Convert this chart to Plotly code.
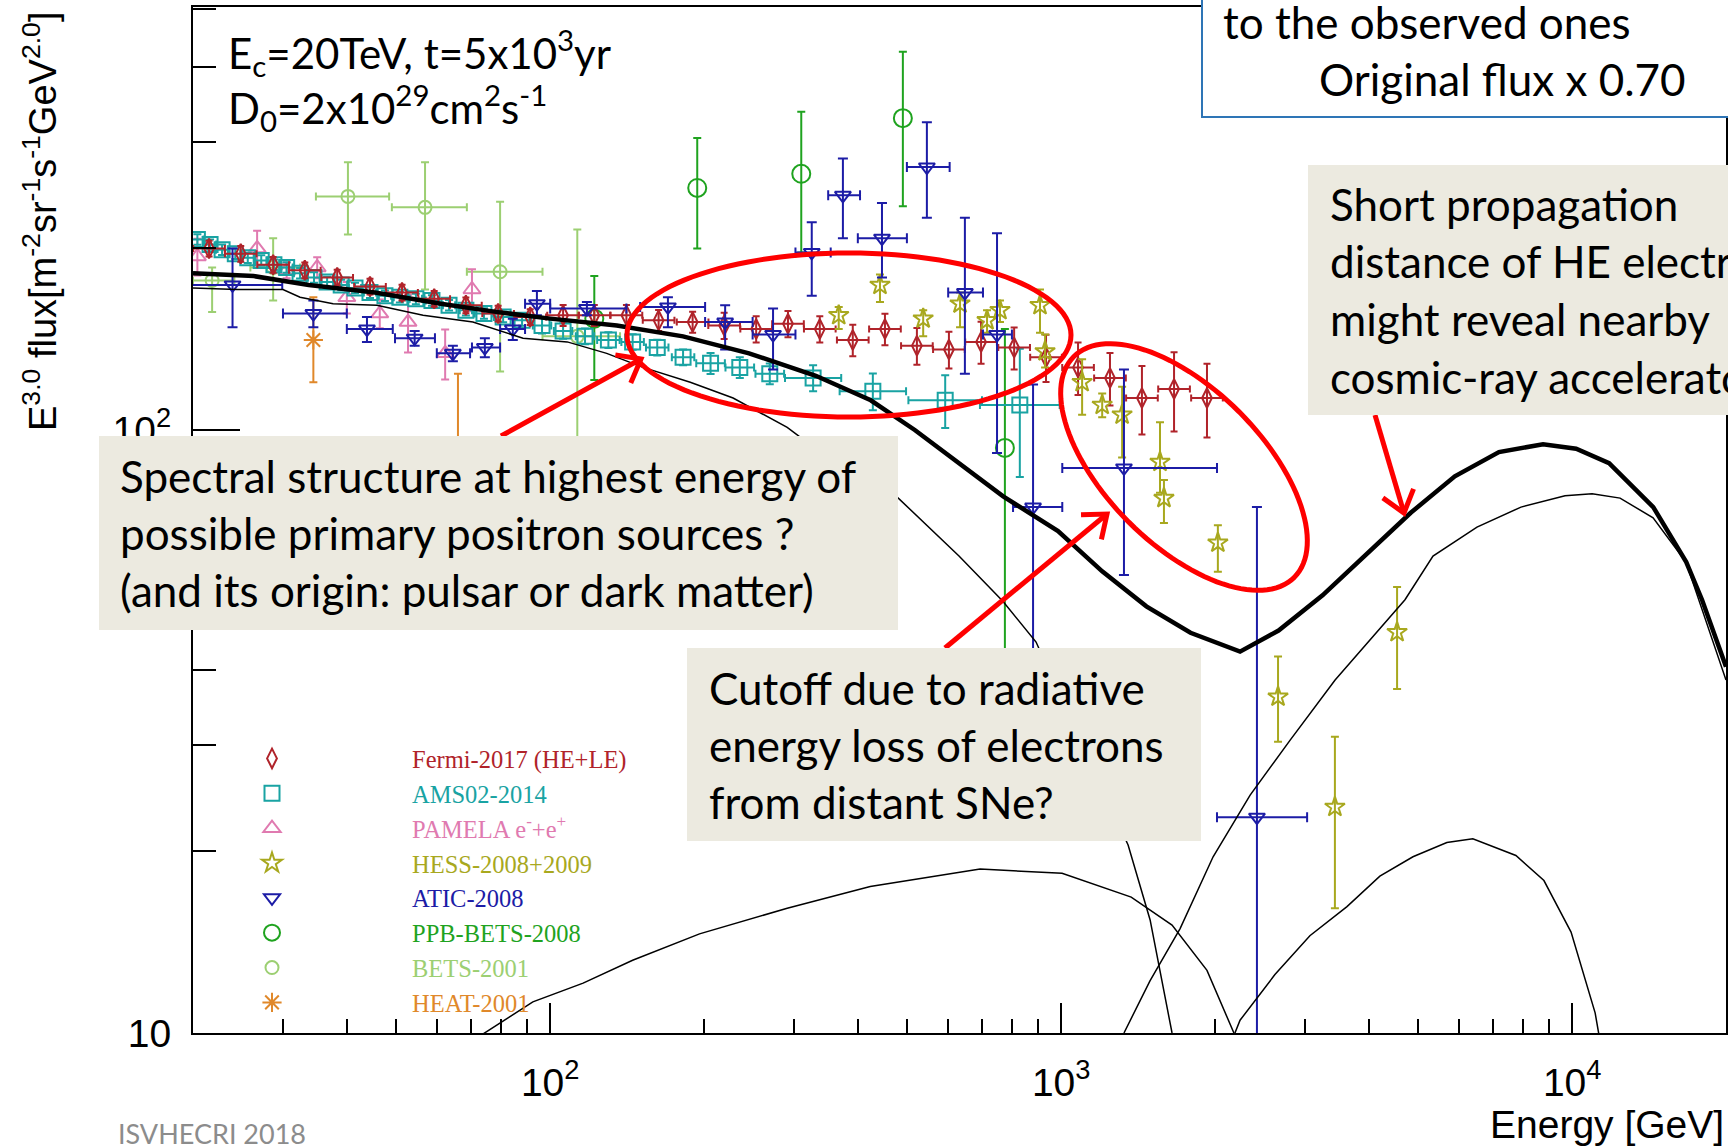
import numpy as np
import plotly.graph_objects as go

# ---------------- data (E in GeV, E^3 x flux) ----------------
# model curves
total_E = [20, 26.3, 33.7, 45.4, 61.1, 78.3, 100, 135, 182, 245, 331, 424, 517, 631, 770, 986, 1203,
           1468, 1791, 2239, 2663, 3247, 3961, 4831, 5893, 7189, 8770, 10180, 11810, 14410, 16720, 17950, 20000]
total_F = [182, 180, 174, 169, 162, 157, 153, 149, 143, 134, 123, 112, 100, 88, 77.6, 68, 58.3,
           51.0, 46.1, 42.9, 46.5, 53.2, 62.1, 72.9, 83.8, 91.9, 94.7, 93.1, 88.1, 74.5, 60.4, 52.3, 40.5]

bkg_E = [20, 24.4, 30.0, 32.4, 37.6, 45.8, 56.4, 70.6, 88.5, 108, 129, 152, 188, 228, 291, 308, 386,
         480, 631, 769, 893, 1089, 1352, 1493, 1648]
bkg_F = [172, 171, 171, 166, 162, 161, 155, 151, 142, 140, 134, 127, 120, 113, 101, 97.4, 87.1,
         77.1, 61.8, 52.0, 44.5, 30.6, 20.5, 15.4, 10.0]

srcA_E = [72.9, 92.5, 116, 145, 196, 291, 423, 694, 1004, 1371, 1648, 1929, 2178]
srcA_F = [9.89, 11.26, 12.1, 13.2, 14.6, 16.1, 17.5, 18.7, 18.4, 16.8, 15.1, 12.7, 10.0]

srcB_E = [1327, 1492, 1709, 1983, 2343, 2806, 3436, 3966, 4708, 5341, 6512, 7940, 9683, 10940,
          12410, 14400, 16700, 20000]
srcB_F = [10.0, 12.2, 14.9, 19.6, 24.8, 30.6, 38.5, 44.3, 52.3, 61.8, 69.0, 74.5, 77.8, 78.4,
          77.1, 71.5, 60.4, 38.5]

srcC_E = [2160, 2239, 2620, 3067, 3625, 4204, 4880, 5685, 6391, 7760, 8805, 9950, 11090, 11330]
srcC_F = [9.73, 10.5, 12.5, 14.5, 16.2, 18.2, 19.6, 20.7, 21.0, 19.7, 17.9, 14.7, 10.8, 9.73]

# Fermi-2017 (HE+LE)
fermi_E = [21.5, 24.8, 28.7, 33.1, 38.3, 44.4, 51.3, 59.3, 68.4, 79.1, 91.4, 106, 122, 141, 163, 190,
           219, 253, 292, 337, 391, 452, 522, 603, 697, 809, 934, 1079, 1246, 1439, 1663, 1929]
fermi_F = [200, 196, 188, 184, 179, 173, 169, 165, 161, 156, 154, 155, 155, 155, 152, 151,
           149, 147, 150, 147, 141, 147, 138, 136, 140, 137, 132, 127, 122, 113, 117, 113]
fermi_err_pct = [3, 3, 3, 3, 3, 3, 3, 3, 3, 3, 3, 4, 4, 4, 4, 4,
                 5, 5, 5, 5, 6, 6, 7, 7, 8, 8, 9, 10, 10, 13, 15, 14]
fermi_bin_dex = 0.031

# AMS02-2014
ams_E = [20.4, 21.6, 22.8, 24.2, 25.6, 27.2, 28.8, 30.5, 32.4, 34.5, 36.6, 39.0, 41.5, 44.4, 47.5,
         50.8, 54.6, 58.7, 63.4, 68.4, 74.2, 80.9, 88.1, 96.4, 106, 117, 130, 145, 162, 182, 206,
         235, 269, 327, 428, 593, 830]
ams_F = [207, 203, 199, 196, 193, 191, 188, 186, 182, 179, 176, 174, 172, 169, 167,
         166, 165, 164, 161, 158, 156, 154, 152, 149, 146, 143, 141, 140, 137, 132, 129,
         127, 124, 122, 116, 112, 110]
ams_err_pct = [2] * 23 + [3] * 7 + [4, 4, 4, 5, 7, 10, 24]
ams_bin_dex = [0.012] * 20 + [0.018] * 6 + [0.022] * 4 + [0.028] * 3 + [0.055, 0.065, 0.072, 0.078]

# PAMELA e- + e+
pam_E = [20.4, 26.7, 30.5, 35.0, 40.0, 46.4, 52.7, 62.3, 70.3]
pam_F = [194, 200, 184, 186, 166, 156, 151, 134, 171]
pam_err_pct = [7, 7, 3, 4, 6, 5.5, 11, 9.5, 8]

# HESS-2008+2009
hess_E = [367, 442, 537, 634, 716, 759, 909, 930, 1099, 1203, 1316, 1561, 1589, 2026, 2657, 3433, 4543]
hess_F = [155, 174, 153, 162, 152, 158, 161, 135, 120, 110, 106, 88.5, 77.1, 65.0, 36.1, 23.7, 46.2]
hess_up = [160, 181, 158, 169, 158, 164, 171, 144, 131, 115, 118, 103, 82.6, 69.5, 42.1, 31.0, 54.9]
hess_dn = [147, 163, 143, 148, 145, 151, 145, 127, 106, 105, 90, 78.7, 70.1, 58.2, 30.4, 16.1, 37.2]

# ATIC-2008
atic_E = [23.9, 34.4, 43.8, 54.3, 64.5, 74.5, 84.5, 94.2, 118, 170, 220, 273, 325, 374, 446, 546,
          648, 749, 881, 1327, 2416]
atic_F = [174, 156, 147, 142, 134, 137, 147, 162, 159, 160, 151, 144, 197, 245, 208, 273,
          169, 144, 74.5, 86.5, 22.8]
atic_up = [200, 164, 154, 146, 138, 142, 153, 170, 163, 166, 161, 159, 221, 282, 238, 324,
           225, 212, 119, 126, 74.5]
atic_dn = [148, 148, 140, 138, 130, 132, 141, 155, 155, 148, 136, 126, 167, 208, 179, 225,
           124, 91.6, 41.6, 57.5, 1.0]
atic_lo = [19.7, 30.0, 40.0, 49.7, 60.0, 70.3, 79.8, 89.3, 100, 150, 201, 249, 302, 350, 400, 499,
           601, 703, 805, 1005, 2018]
atic_hi = [29.9, 40.0, 49.2, 59.5, 69.7, 79.8, 89.3, 100, 141, 201, 249, 302, 354, 404, 499, 605,
           703, 801, 1005, 2018, 3029]

# PPB-BETS-2008
ppb_E = [122, 194, 310, 490, 776]
ppb_F = [153, 252, 266, 329, 93.4]
ppb_up = [180, 305, 337, 424, 147]
ppb_dn = [121, 200, 197, 235, 43.2]

# BETS-2001
bets_E = [21.8, 28.7, 40.2, 56.9, 79.8, 113]
bets_F = [177, 186, 244, 234, 183, 143]
bets_up = [186, 208, 278, 278, 239, 215]
bets_dn = [157, 164, 211, 171, 125, 81]
bets_lo = [20.0, 25.9, 34.8, 49.0, 68.7, 96.6]
bets_hi = [24.1, 32.4, 48.4, 68.7, 96.6, 137]

# HEAT-2001
heat_E = [34.4, 66.0]
heat_F = [141, 82.6]
heat_up = [166, 124]
heat_dn = [120, 52.2]

x_ticks = [100, 1000, 10000]
x_ticktext = ["10<sup>2</sup>", "10<sup>3</sup>", "10<sup>4</sup>"]
y_ticks = [10, 100]
y_ticktext = ["10", "10<sup>2</sup>"]

# ---------------- layout geometry ----------------
W, H = 1728, 1146
L, R, T, B = 193, 1726, 7, 1033


def px(X):
    return (X - L) / (R - L)


def py(Y):
    return (B - Y) / (B - T)


C_FERMI = "#b0232a"
C_AMS = "#19a3a3"
C_PAM = "#e07ab0"
C_HESS = "#a8a81e"
C_ATIC = "#1c1ca6"
C_PPB = "#1fa31f"
C_BETS = "#9ccf72"
C_HEAT = "#e0882a"
RED = "#fe0000"
BOX = "#ECEAE0"

fig = go.Figure()


def err_from_pct(F, pct):
    up = [f * (1 + p / 100.0) for f, p in zip(F, pct)]
    dn = [f * (1 - p / 100.0) for f, p in zip(F, pct)]
    return up, dn


def bins_from_dex(E, dex):
    if not isinstance(dex, list):
        dex = [dex] * len(E)
    lo = [e * 10 ** (-d) for e, d in zip(E, dex)]
    hi = [e * 10 ** d for e, d in zip(E, dex)]
    return lo, hi


def add_data(name, E, F, up, dn, color, symbol, size, rank, lo=None, hi=None, capw=4):
    ey = dict(type="data", symmetric=False,
              array=[u - f for u, f in zip(up, F)],
              arrayminus=[f - d for f, d in zip(F, dn)],
              color=color, thickness=2, width=capw)
    ex = None
    if lo is not None:
        ex = dict(type="data", symmetric=False,
                  array=[h - e for h, e in zip(hi, E)],
                  arrayminus=[e - l for e, l in zip(E, lo)],
                  color=color, thickness=2, width=capw)
    fig.add_trace(go.Scatter(
        x=E, y=F, mode="markers", name=f"<span style='color:{color}'>{name}</span>",
        marker=dict(symbol=symbol, size=size, color=color, line=dict(color=color, width=2)),
        error_y=ey, error_x=ex, legendrank=rank))


fu, fd = err_from_pct(fermi_F, fermi_err_pct)
flo, fhi = bins_from_dex(fermi_E, fermi_bin_dex)
au, ad = err_from_pct(ams_F, ams_err_pct)
alo, ahi = bins_from_dex(ams_E, ams_bin_dex)
pu, pd_ = err_from_pct(pam_F, pam_err_pct)

add_data("HEAT-2001", heat_E, heat_F, heat_up, heat_dn, C_HEAT, "asterisk-open", 16, 8)
add_data("BETS-2001", bets_E, bets_F, bets_up, bets_dn, C_BETS, "circle-open", 13, 7, bets_lo, bets_hi)
add_data("PPB-BETS-2008", ppb_E, ppb_F, ppb_up, ppb_dn, C_PPB, "circle-open", 18, 6)
add_data("PAMELA e<sup>-</sup>+e<sup>+</sup>", pam_E, pam_F, pu, pd_, C_PAM, "triangle-up-open", 15, 3)
add_data("AMS02-2014", ams_E, ams_F, au, ad, C_AMS, "square-open", 15, 2, alo, ahi)
add_data("Fermi-2017 (HE+LE)", fermi_E, fermi_F, fu, fd, C_FERMI, "diamond-tall-open", 14, 1, flo, fhi, capw=3.5)
add_data("HESS-2008+2009", hess_E, hess_F, hess_up, hess_dn, C_HESS, "star-open", 15, 4)
add_data("ATIC-2008", atic_E, atic_F, atic_up, atic_dn, C_ATIC, "triangle-down-open", 14, 5, atic_lo, atic_hi, capw=5)

for E, F in [(bkg_E, bkg_F), (srcA_E, srcA_F), (srcB_E, srcB_F), (srcC_E, srcC_F)]:
    fig.add_trace(go.Scatter(x=E, y=F, mode="lines", line=dict(color="black", width=1.5),
                             showlegend=False, hoverinfo="skip"))
fig.add_trace(go.Scatter(x=total_E, y=total_F, mode="lines", line=dict(color="black", width=4.5),
                         showlegend=False, hoverinfo="skip"))

# ---------------- shapes ----------------
shapes = []


def rect(x0, y0, x1, y1, fill, line_color=None, lw=0):
    shapes.append(dict(type="rect", xref="paper", yref="paper", x0=px(x0), x1=px(x1),
                       y0=py(y1), y1=py(y0), fillcolor=fill, layer="above",
                       line=dict(color=line_color or fill, width=lw)))


def path_from_pts(pts, closed=False):
    s = "M " + " L ".join(f"{px(x):.5f},{py(y):.5f}" for x, y in pts)
    return s + (" Z" if closed else "")


def ellipse(cx, cy, a, b, theta_deg):
    th = np.radians(theta_deg)
    t = np.linspace(0, 2 * np.pi, 121)
    xs = cx + a * np.cos(t) * np.cos(th) - b * np.sin(t) * np.sin(th)
    ys = cy + a * np.cos(t) * np.sin(th) + b * np.sin(t) * np.cos(th)
    shapes.append(dict(type="path", xref="paper", yref="paper", layer="above",
                       path=path_from_pts(list(zip(xs, ys)), closed=True),
                       line=dict(color=RED, width=5)))


def arrow(x0, y0, x1, y1, head=26, ang=38):
    shapes.append(dict(type="path", xref="paper", yref="paper", layer="above",
                       path=path_from_pts([(x0, y0), (x1, y1)]),
                       line=dict(color=RED, width=5)))
    d = np.arctan2(y0 - y1, x0 - x1)
    pts = []
    for s in (1, -1):
        a = d + s * np.radians(ang)
        pts.append((x1 + head * np.cos(a), y1 + head * np.sin(a)))
    shapes.append(dict(type="path", xref="paper", yref="paper", layer="above",
                       path=path_from_pts([pts[0], (x1, y1), pts[1]]),
                       line=dict(color=RED, width=5)))


ellipse(849, 335, 222, 82, 0)
ellipse(1184, 467, 156, 78, 45)
arrow(501, 436, 641, 359)
arrow(945, 648, 1107, 514)
arrow(1375, 415, 1404, 513)
rect(99, 436, 898, 630, BOX)
rect(687, 648, 1201, 841, BOX)
rect(1308, 165, 1760, 415, BOX)
rect(1202, -20, 1760, 117, "white", "#2E75B6", 2)

# ---------------- annotations ----------------
anns = []
CAL = "Lato, Carlito, Calibri, sans-serif"


def ann(text, X, Y, size=44, family=CAL, color="black", xanchor="left", yanchor="middle", angle=0):
    anns.append(dict(text=text, xref="paper", yref="paper", x=px(X), y=py(Y), showarrow=False,
                     xanchor=xanchor, yanchor=yanchor, textangle=angle,
                     font=dict(size=size, family=family, color=color)))


for i, line in enumerate(["Spectral structure at highest energy of",
                          "possible primary positron sources ?",
                          "(and its origin: pulsar or dark matter)"]):
    ann(line, 118, 476 + 57 * i)
for i, line in enumerate(["Cutoff due to radiative", "energy loss of electrons", "from distant SNe?"]):
    ann(line, 707, 688 + 57 * i)
for i, line in enumerate(["Short propagation", "distance of HE electrons", "might reveal nearby",
                          "cosmic-ray accelerators"]):
    ann(line, 1328, 204 + 57.5 * i)
ann("to the observed ones", 1221, 22)
ann("Original flux x 0.70", 1317, 79)
ann("E<sub>c</sub>=20TeV, t=5x10<sup>3</sup>yr", 226, 52, size=42)
ann("D<sub>0</sub>=2x10<sup>29</sup>cm<sup>2</sup>s<sup>-1</sup>", 226, 107, size=42)
ann("ISVHECRI 2018", 116, 1133, size=27, color="#8c8c8c")
ann("Energy [GeV]", 1726, 1125, size=39, family="Liberation Sans, Arial", xanchor="right")
ann("E<sup>3.0</sup> flux[m<sup>-2</sup>sr<sup>-1</sup>s<sup>-1</sup>GeV<sup>2.0</sup>]", 40, 222,
    size=38, family="Liberation Sans, Arial", xanchor="center", angle=-90)

axis_font = dict(family="Liberation Sans, Arial", size=39, color="black")

fig.update_layout(
    width=W, height=H,
    margin=dict(l=L, r=W - R, t=T, b=H - B, autoexpand=False),
    paper_bgcolor="white", plot_bgcolor="white",
    showlegend=True,
    legend=dict(x=px(132), y=py(736), xanchor="left", yanchor="top",
                font=dict(family="Liberation Serif, Times New Roman", size=24.5, color="black"),
                itemwidth=270, bgcolor="rgba(0,0,0,0)", borderwidth=0, tracegroupgap=0,
                itemclick=False),
    xaxis=dict(type="log", range=[np.log10(20), np.log10(20000)],
               tickmode="array", tickvals=x_ticks, ticktext=x_ticktext,
               ticks="inside", ticklen=30, tickwidth=2, tickcolor="black",
               minor=dict(tickmode="array",
                          tickvals=[30, 40, 50, 60, 70, 80, 90, 200, 300, 400, 500, 600, 700, 800, 900,
                                    2000, 3000, 4000, 5000, 6000, 7000, 8000, 9000],
                          ticks="inside", ticklen=14, tickwidth=1.5, tickcolor="black"),
               showline=True, linecolor="black", linewidth=2, mirror=True,
               showgrid=False, zeroline=False, tickfont=axis_font, ticklabelstandoff=14),
    yaxis=dict(type="log", range=[1, 2.7015],
               tickmode="array", tickvals=y_ticks, ticktext=y_ticktext,
               ticks="inside", ticklen=47, tickwidth=2, tickcolor="black",
               minor=dict(tickmode="array",
                          tickvals=[20, 30, 40, 50, 60, 70, 80, 90, 200, 300, 400, 500],
                          ticks="inside", ticklen=23, tickwidth=1.5, tickcolor="black"),
               showline=True, linecolor="black", linewidth=2, mirror=True,
               showgrid=False, zeroline=False, tickfont=axis_font, ticklabelstandoff=12),
    shapes=shapes,
    annotations=anns,
)

fig.write_html("out.html")
